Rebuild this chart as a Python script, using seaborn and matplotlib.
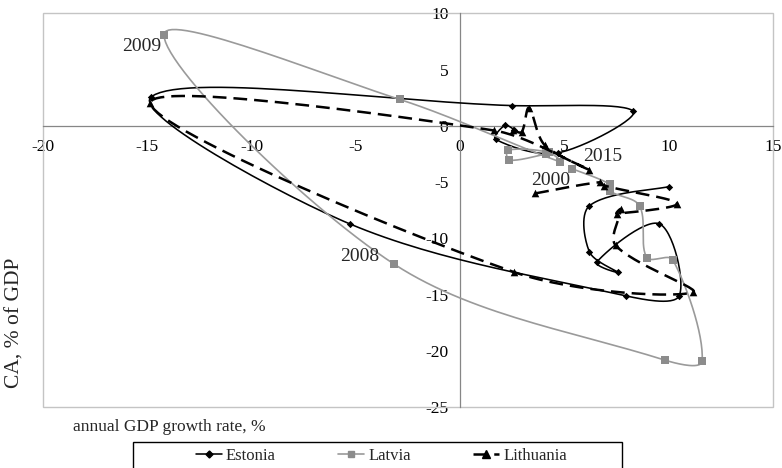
import numpy as np
import pandas as pd
import matplotlib
matplotlib.use("Agg")
import matplotlib.pyplot as plt
from matplotlib.lines import Line2D
from matplotlib.patches import Rectangle
import seaborn as sns

# Annual GDP growth (%) and current account balance (% of GDP), 2000-2015
years = list(range(2000, 2016))

estonia_gdp = [10.0, 6.2, 6.2, 7.55, 6.55, 9.55, 10.5, 7.95, -5.3, -14.8, 2.5, 8.3, 4.7, 1.7, 2.15, 2.6]
estonia_ca = [-5.4, -7.1, -11.2, -13.0, -12.1, -8.7, -15.1, -15.1, -8.7, 2.6, 1.8, 1.3, -2.4, -1.2, 0.05, -0.35]

latvia_gdp = [5.35, 7.2, 7.2, 8.6, 8.95, 10.2, 11.6, 9.8, -3.15, -14.2, -2.9, 4.8, 4.25, 2.3, 2.35, 4.1]
latvia_ca = [-3.8, -5.2, -5.8, -7.1, -11.7, -11.9, -20.9, -20.8, -12.3, 8.1, 2.35, -3.2, -2.35, -2.15, -3.05, -2.5]

lithuania_gdp = [3.6, 6.7, 6.9, 10.4, 7.5, 7.7, 7.45, 11.15, 2.6, -14.85, 1.6, 6.2, 4.05, 3.3, 2.95, 2.55]
lithuania_ca = [-6.0, -5.0, -5.3, -6.9, -7.8, -7.4, -10.6, -14.8, -13.0, 2.0, -0.4, -3.9, -1.7, 1.6, -0.55, -0.4]

year_labels = ["2009", "2008", "2015", "2000"]
year_label_x = [-15.25, -4.8, 6.85, 4.35]
year_label_y = [7.05, -11.6, -2.7, -4.85]

x_ticks = [-20, -15, -10, -5, 0, 5, 10, 15]
y_ticks = [-25, -20, -15, -10, -5, 0, 5, 10]

# screen units per data unit, so smoothing is done in the drawn geometry
X_SCALE, Y_SCALE = 20.86, 11.26


def smooth_path(x, y, steps=30):
    """Bezier path through the points with chord-length weighted tangents."""
    p = np.column_stack([np.asarray(x, float) * X_SCALE, np.asarray(y, float) * Y_SCALE])
    n = len(p)
    tang = np.zeros_like(p)
    for i in range(n):
        a = p[max(i - 1, 0)]
        b = p[min(i + 1, n - 1)]
        tang[i] = b - a
    t = np.linspace(0, 1, steps + 1)[1:, None]
    parts = [p[:1]]
    for i in range(n - 1):
        p1, p2 = p[i], p[i + 1]
        d12 = np.linalg.norm(p2 - p1)
        d01 = np.linalg.norm(p1 - p[i - 1]) if i > 0 else d12
        d23 = np.linalg.norm(p[i + 2] - p2) if i + 2 < n else d12
        w1 = d12 / (d01 + d12) / 3.0 if (d01 + d12) > 0 else 0
        w2 = d12 / (d12 + d23) / 3.0 if (d12 + d23) > 0 else 0
        b1 = p1 + tang[i] * w1
        b2 = p2 - tang[i + 1] * w2
        seg = ((1 - t) ** 3) * p1 + 3 * ((1 - t) ** 2) * t * b1 + 3 * (1 - t) * (t ** 2) * b2 + (t ** 3) * p2
        parts.append(seg)
    pts = np.vstack(parts)
    return pd.DataFrame({"gdp": pts[:, 0] / X_SCALE, "ca": pts[:, 1] / Y_SCALE,
                         "step": np.arange(len(pts))})


sns.set_style("white")
plt.rcParams["font.family"] = ["Liberation Serif", "DejaVu Serif"]

fig = plt.figure(figsize=(7.82, 4.68), dpi=100)
W, H = 782, 468
ax = fig.add_axes([43 / W, 1 - 407.3 / H, 730 / W, 394 / H])

series = [
    ("Estonia", estonia_gdp, estonia_ca, dict(color="black", lw=1.15), "D", 14, "black"),
    ("Latvia", latvia_gdp, latvia_ca, dict(color="#9a9a9a", lw=1.2), "s", 28, "#8c8c8c"),
    ("Lithuania", lithuania_gdp, lithuania_ca, dict(color="black", lw=1.8), "^", 30, "black"),
]

handles = []
for i, (name, gx, cy, style, mk, ms, mcol) in enumerate(series):
    curve = smooth_path(gx, cy)
    sns.lineplot(data=curve, x="gdp", y="ca", sort=False, estimator=None, ax=ax,
                 color=style["color"], linewidth=style["lw"], zorder=3 + i)
    line = ax.lines[-1]
    if name == "Lithuania":
        line.set_dashes((5.5, 2.8))
    pts = pd.DataFrame({"gdp": gx, "ca": cy, "year": years})
    sns.scatterplot(data=pts, x="gdp", y="ca", marker=mk, s=ms, color=mcol,
                    edgecolor=mcol, linewidth=0, ax=ax, zorder=3.5 + i)
    h = Line2D([], [], color=style["color"], lw=style["lw"], marker=mk,
               markersize=np.sqrt(ms) * 0.95, markerfacecolor=mcol, markeredgecolor=mcol)
    if name == "Lithuania":
        h.set_dashes((5.5, 2.8))
    handles.append(h)

for txt, tx, ty in zip(year_labels, year_label_x, year_label_y):
    ax.text(tx, ty, txt, fontsize=14, ha="center", va="center", zorder=8)

ax.set_xlim(-20, 15)
ax.set_ylim(-25, 10)
ax.set_xticks(x_ticks)
ax.set_yticks(y_ticks)
ax.set_xticklabels([str(v) for v in x_ticks])
ax.set_yticklabels([str(v) for v in y_ticks])
ax.set_xlabel("")
ax.set_ylabel("")

for side in ("top", "right"):
    ax.spines[side].set_visible(False)
ax.spines["left"].set_position(("data", 0))
ax.spines["bottom"].set_position(("data", 0))
for side in ("left", "bottom"):
    ax.spines[side].set_color("#868686")
    ax.spines[side].set_linewidth(0.9)

ax.tick_params(axis="both", direction="out", length=3.5, width=0.9, color="#868686",
               labelsize=12.5, labelcolor="black")
ax.tick_params(axis="x", pad=6)
ax.tick_params(axis="y", pad=5)
for lab in ax.get_xticklabels() + ax.get_yticklabels():
    lab.set_bbox(dict(facecolor="white", edgecolor="none", pad=0.3))

# plot-area frame
ax.add_patch(Rectangle((0, 0), 1, 1, transform=ax.transAxes, fill=False,
                       edgecolor="#c4c4c4", lw=1.0, clip_on=False, zorder=1))

fig.text(15 / W, 1 - 323 / H, "CA, % of GDP", rotation=90, fontsize=15.5,
         ha="center", va="center")
fig.text(73 / W, 1 - 427 / H, "annual GDP growth rate, %", fontsize=12.5,
         ha="left", va="center")

fig.legend(handles, [s[0] for s in series], loc="center left",
           bbox_to_anchor=(196 / W, 1 - 456 / H), ncol=3, frameon=False,
           fontsize=12, handlelength=1.56, handletextpad=0.24, columnspacing=3.75,
           borderpad=0, borderaxespad=0)
fig.patches.append(Rectangle((132.7 / W, -0.05), (622 - 132.7) / W, 0.05 + (468 - 442) / H,
                             transform=fig.transFigure, fill=False, edgecolor="black",
                             lw=1.0, figure=fig))

fig.savefig("out.png", dpi=100)
